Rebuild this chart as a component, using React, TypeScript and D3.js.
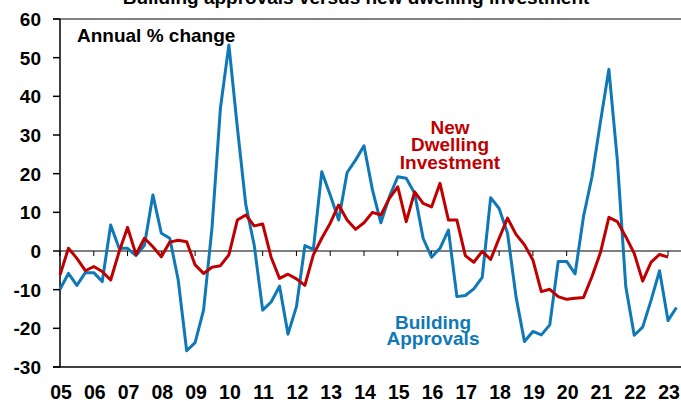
import React, { useRef, useEffect } from "react";
import { select, scaleLinear, line } from "d3";

// year tick labels, 2005 .. 2023
const years = ["05", "06", "07", "08", "09", "10", "11", "12", "13", "14", "15", "16", "17", "18", "19", "20", "21", "22", "23"];
const yTicks = [-30, -20, -10, 0, 10, 20, 30, 40, 50, 60];

// quarterly, annual % change, starting 2005
const approvals = [
  -9.9, -5.8, -8.9, -5.6, -5.6, -7.9, 6.7, 0.7, 0.7, -1.2,
  1.5, 14.5, 4.6, 3.3, -7.5, -25.8, -23.7, -15.3, 6.0, 37.0,
  53.3, 32.0, 12.0, 1.5, -15.3, -13.2, -9.1, -21.5, -14.4, 1.4,
  0.4, 20.5, 14.5, 8.0, 20.3, 23.5, 27.2, 15.8, 7.3, 14.0,
  19.2, 18.8, 14.9, 3.3, -1.6, 0.7, 5.4, -11.8, -11.5, -9.8,
  -6.8, 13.8, 11.0, 4.6, -11.8, -23.4, -20.8, -21.7, -19.1, -2.7,
  -2.7, -5.9, 9.0, 19.2, 33.4, 47.0, 23.5, -9.2, -21.8, -19.7,
  -12.7, -5.1, -18.0, -14.6,
];

const dwelling = [
  -6.2, 0.7, -1.9, -5.1, -4.0, -5.3, -7.5, -0.2, 6.1, -0.9,
  3.3, 1.1, -1.5, 2.3, 2.8, 2.4, -3.6, -5.8, -4.2, -3.8,
  -1.0, 8.0, 9.3, 6.5, 7.0, -1.6, -7.1, -6.0, -7.2, -8.9,
  -1.0, 3.3, 7.2, 11.9, 8.0, 5.6, 7.3, 10.0, 9.3, 13.6,
  16.6, 7.6, 15.3, 12.3, 11.4, 17.5, 8.0, 8.0, -1.2, -2.9,
  -0.1, -2.2, 3.3, 8.5, 4.3, 1.6, -2.3, -10.5, -9.9, -11.8,
  -12.5, -12.2, -12.0, -6.6, -0.4, 8.7, 7.6, 3.7, -0.6, -7.8,
  -2.9, -0.9, -1.6,
];

const BLUE = "#0f79b7";
const RED = "#c00000";
const FONT = "'Liberation Sans', Arial, sans-serif";

const App = () => {
  const svgRef = useRef(null);

  useEffect(() => {
    const svg = select(svgRef.current);
    svg.selectAll("*").remove();

    //scales
    const x = scaleLinear().domain([2005, 2023]).range([60, 668]);
    const y = scaleLinear().domain([-30, 60]).range([367, 19]);
    const right = 681;

    const g = svg.append("g").attr("font-family", FONT).attr("font-weight", "bold");

    //title, cut off at the top
    g.append("text")
      .attr("x", 356)
      .attr("y", 3.5)
      .attr("text-anchor", "middle")
      .attr("font-size", 19)
      .attr("fill", "#000")
      .text("Building approvals versus new dwelling investment");

    //frame: top and bottom lines
    g.append("line")
      .attr("x1", 53).attr("x2", right)
      .attr("y1", y(60)).attr("y2", y(60))
      .attr("stroke", "#808080").attr("stroke-width", 2);
    g.append("line")
      .attr("x1", 53).attr("x2", right)
      .attr("y1", y(-30)).attr("y2", y(-30))
      .attr("stroke", "#000").attr("stroke-width", 1.5);

    //y axis
    g.append("line")
      .attr("x1", 60).attr("x2", 60)
      .attr("y1", y(60)).attr("y2", y(-30))
      .attr("stroke", "#000").attr("stroke-width", 1.5);
    g.selectAll(".ytick")
      .data(yTicks)
      .join("line")
      .attr("class", "ytick")
      .attr("x1", 53).attr("x2", 60)
      .attr("y1", (d) => y(d)).attr("y2", (d) => y(d))
      .attr("stroke", "#000").attr("stroke-width", 1.5);
    g.selectAll(".ylab")
      .data(yTicks)
      .join("text")
      .attr("class", "ylab")
      .attr("x", 41)
      .attr("y", (d) => y(d) + 7)
      .attr("text-anchor", "end")
      .attr("font-size", 19)
      .text((d) => d);

    //zero line with year ticks
    g.append("line")
      .attr("x1", 60).attr("x2", right)
      .attr("y1", y(0)).attr("y2", y(0))
      .attr("stroke", "#000").attr("stroke-width", 1);
    g.selectAll(".xtick")
      .data(years)
      .join("line")
      .attr("class", "xtick")
      .attr("x1", (d, i) => x(2005 + i)).attr("x2", (d, i) => x(2005 + i))
      .attr("y1", y(0)).attr("y2", y(0) + 5)
      .attr("stroke", "#000").attr("stroke-width", 1);
    g.selectAll(".xlab")
      .data(years)
      .join("text")
      .attr("class", "xlab")
      .attr("x", (d, i) => x(2005 + i) + 1)
      .attr("y", 399)
      .attr("text-anchor", "middle")
      .attr("font-size", 19.5)
      .text((d) => d);

    //series
    const qLine = line<number>()
      .x((d, i) => x(2005 + i / 4))
      .y((d) => y(d));

    g.append("path")
      .datum(approvals)
      .attr("d", qLine)
      .attr("fill", "none")
      .attr("stroke", BLUE)
      .attr("stroke-width", 3)
      .attr("stroke-linejoin", "round");
    g.append("path")
      .datum(dwelling)
      .attr("d", qLine)
      .attr("fill", "none")
      .attr("stroke", RED)
      .attr("stroke-width", 3)
      .attr("stroke-linejoin", "round");

    //labels
    g.append("text")
      .attr("x", 77).attr("y", 42)
      .attr("font-size", 19)
      .attr("fill", "#000")
      .text("Annual % change");

    const red = g.append("text")
      .attr("text-anchor", "middle")
      .attr("font-size", 19)
      .attr("fill", RED);
    ["New", "Dwelling", "Investment"].forEach((t, i) => {
      red.append("tspan").attr("x", 450).attr("y", 133.5 + i * 17.5).text(t);
    });

    const blue = g.append("text")
      .attr("text-anchor", "middle")
      .attr("font-size", 19)
      .attr("fill", BLUE);
    ["Building", "Approvals"].forEach((t, i) => {
      blue.append("tspan").attr("x", 433).attr("y", 328.5 + i * 16).text(t);
    });
  }, []);

  return (
    <svg
      ref={svgRef}
      width={681}
      height={401}
      style={{ position: "absolute", left: 0, top: 0, background: "#fff" }}
    />
  );
};

export default App;
